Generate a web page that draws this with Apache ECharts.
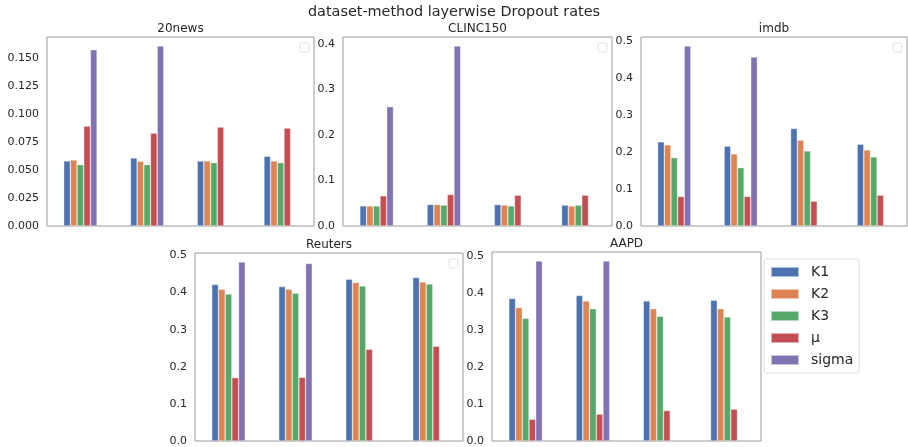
<!DOCTYPE html>
<html>
<head>
<meta charset="utf-8">
<script src="https://cdn.jsdelivr.net/npm/echarts@6/dist/echarts.min.js"></script>
<style>html,body{margin:0;padding:0;background:#fff}#c{width:908px;height:447px}</style>
</head>
<body>
<div id="c"></div>
<script>
// ---- data ----
const categories = ['1', '2', '3', '4'];
const seriesNames = ['K1', 'K2', 'K3', 'μ', 'sigma'];
const datasetNames = ['20news', 'CLINC150', 'imdb', 'Reuters', 'AAPD'];

const news20 = [
  [0.0582, 0.0609, 0.0582, 0.0624],
  [0.0591, 0.0579, 0.0582, 0.0582],
  [0.0549, 0.0549, 0.0567, 0.0567],
  [0.0894, 0.0831, 0.0885, 0.0876],
  [0.1577, 0.1610, null, null]
];
const clinc150 = [
  [0.0442, 0.0473, 0.0473, 0.0460],
  [0.0442, 0.0473, 0.0460, 0.0442],
  [0.0442, 0.0460, 0.0442, 0.0460],
  [0.0664, 0.0694, 0.0679, 0.0679],
  [0.2626, 0.3960, null, null]
];
const imdb = [
  [0.2278, 0.2161, 0.2640, 0.2215],
  [0.2196, 0.1952, 0.2324, 0.2060],
  [0.1850, 0.1579, 0.2033, 0.1870],
  [0.0800, 0.0800, 0.0672, 0.0836],
  [0.4872, 0.4573, null, null]
];
const reuters = [
  [0.4218, 0.4164, 0.4361, 0.4406],
  [0.4091, 0.4091, 0.4272, 0.4288],
  [0.3965, 0.3983, 0.4180, 0.4234],
  [0.1710, 0.1718, 0.2473, 0.2554],
  [0.4827, 0.4784, null, null]
];
const aapd = [
  [0.3863, 0.3945, 0.3800, 0.3817],
  [0.3618, 0.3800, 0.3590, 0.3590],
  [0.3326, 0.3590, 0.3380, 0.3363],
  [0.0592, 0.0728, 0.0828, 0.0864],
  [0.4880, 0.4880, null, null]
];
const allData = [news20, clinc150, imdb, reuters, aapd];
const tickSteps = [0.025, 0.1, 0.1, 0.1, 0.1];
const tickDecimals = [3, 1, 1, 1, 1];

// ---- layout / style ----
const colors = ['#4C72B0', '#DD8452', '#55A868', '#C44E52', '#8172B3'];
const font = 'DejaVu Sans';
const textColor = '#262626';
const grids = [
  {left: 47, top: 37, width: 267, height: 189},
  {left: 343, top: 37, width: 269, height: 189},
  {left: 641, top: 37, width: 266, height: 189},
  {left: 195, top: 253, width: 268, height: 188},
  {left: 492, top: 252, width: 269, height: 189}
];
const hasEmptyLegend = [true, true, true, true, false];

const chart = echarts.init(document.getElementById('c'), null, {renderer: 'canvas'});

const option = {
  animation: false,
  backgroundColor: '#fff',
  color: colors,
  grid: grids.map(g => Object.assign({show: true, borderColor: '#9a9a9a', borderWidth: 1, backgroundColor: '#fff'}, g)),
  xAxis: grids.map((g, i) => ({
    type: 'category', gridIndex: i, data: categories,
    axisLine: {show: false}, axisTick: {show: false}, axisLabel: {show: false}, splitLine: {show: false}
  })),
  yAxis: grids.map((g, i) => {
    let mx = 0;
    allData[i].forEach(s => s.forEach(v => { if (v != null && v > mx) mx = v; }));
    return {
      type: 'value', gridIndex: i, min: 0, max: mx * 1.05, interval: tickSteps[i],
      axisLine: {show: false}, axisTick: {show: false}, splitLine: {show: false},
      axisLabel: {
        show: true, showMaxLabel: false, margin: 8,
        color: textColor, fontFamily: font, fontSize: 11,
        formatter: v => v.toFixed(tickDecimals[i])
      }
    };
  }),
  legend: {
    data: seriesNames,
    orient: 'vertical',
    left: 764, top: 259,
    width: 96,
    padding: [5, 6, 5, 6],
    itemWidth: 28, itemHeight: 10, itemGap: 6,
    icon: 'rect',
    backgroundColor: '#fff',
    borderColor: '#dddddd', borderWidth: 1, borderRadius: 3,
    textStyle: {fontFamily: font, fontSize: 14, color: textColor, lineHeight: 16, padding: [0, 0, 0, 7]}
  },
  series: [],
  graphic: []
};

allData.forEach((data, gi) => {
  data.forEach((vals, si) => {
    option.series.push({
      name: seriesNames[si], type: 'bar',
      xAxisIndex: gi, yAxisIndex: gi,
      data: vals,
      barWidth: '10%', barGap: '0%',
      itemStyle: {color: colors[si], borderColor: 'rgba(255,255,255,0.55)', borderWidth: 0.6}
    });
  });
});

option.graphic.push({
  type: 'text', left: 'center', top: 5,
  style: {text: 'dataset-method layerwise Dropout rates', fontFamily: font, fontSize: 14.4, fill: textColor}
});
grids.forEach((g, i) => {
  option.graphic.push({
    type: 'text', x: g.left + g.width / 2, y: g.top - 8,
    style: {text: datasetNames[i], fontFamily: font, fontSize: 12, fill: textColor, align: 'center', verticalAlign: 'middle'}
  });
  if (hasEmptyLegend[i]) {
    option.graphic.push({
      type: 'rect',
      shape: {x: g.left + g.width - 14, y: g.top + 6, width: 9, height: 9, r: 2},
      style: {fill: '#fff', stroke: '#e2e2e2', lineWidth: 1}
    });
  }
});

chart.setOption(option);
</script>
</body>
</html>
